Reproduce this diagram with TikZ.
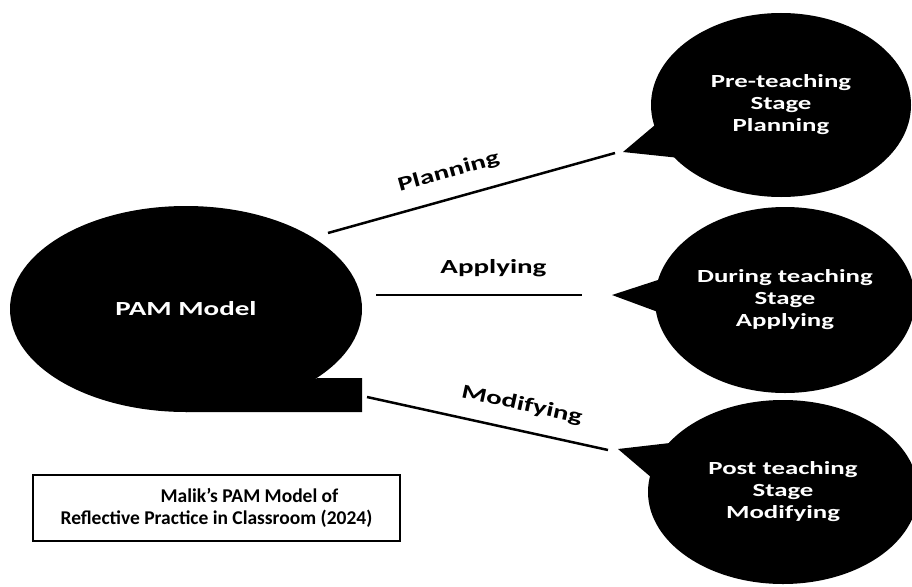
\documentclass[tikz,border=0pt]{standalone}
\usepackage{fontspec}
\setmainfont{Carlito}
\newfontfamily\widesans{Carlito}[FakeStretch=1.45]
\usetikzlibrary{shapes.geometric}
\begin{document}
\begin{tikzpicture}[x=1pt,y=-1pt,
  bubble/.style={ellipse, fill=black, inner sep=0pt, text=white, align=center,
    font=\widesans\bfseries\fontsize{18.5}{22}\selectfont},
  link/.style={line width=2.5pt, black},
  linklabel/.style={font=\widesans\bfseries\fontsize{20}{24}\selectfont, sloped},
  captionbox/.style={draw, line width=1.5pt, align=center,
    font=\bfseries\fontsize{19.5}{22}\selectfont}]
\useasboundingbox (0,0) rectangle (912,586);

% central callout with its square tail
\node[bubble, minimum width=352pt, minimum height=206pt,
  font=\widesans\bfseries\fontsize{20}{24}\selectfont] (pam) at (186,309) {PAM Model};
\fill (318,378) -- (362,378) -- (362,412) -- (186,412) -- cycle;

% stage bubbles with pointed tails
\node[bubble, minimum width=260pt, minimum height=184pt] (pre) at (781,105)
  {Pre-teaching\\Stage\\Planning};
\coordinate (preTip) at (623,152);
\fill (preTip) -- (655,125) -- (680,158) -- cycle;

\node[bubble, minimum width=260pt, minimum height=186pt] (during) at (785,300)
  {During teaching\\Stage\\Applying};
\coordinate (duringTip) at (612,295);
\fill (duringTip) -- (658,280) -- (658,312) -- cycle;

\node[bubble, minimum width=270pt, minimum height=184pt] (post) at (783,492)
  {Post teaching\\Stage\\Modifying};
\coordinate (postTip) at (618,449);
\fill (postTip) -- (670,443) -- (652,478) -- cycle;

% connectors
\coordinate (plA) at (328,233);
\coordinate (plB) at (615,153);
\draw[link] (plA) -- node[linklabel, pos=0.445, above=13pt] {Planning} (plB);

\coordinate (apA) at (376,295);
\coordinate (apB) at (582,295);
\draw[link] (apA) -- node[linklabel, pos=0.57, above=14pt] {Applying} (apB);

\coordinate (moA) at (367,397);
\coordinate (moB) at (608,450);
\draw[link] (moA) -- node[linklabel, pos=0.62, above=12pt] {Modifying} (moB);

% caption
\node[captionbox, minimum width=367pt, minimum height=66pt] (caption) at (216.5,508)
  {\hspace*{66pt}Malik’s PAM Model of\\Reflective Practice in Classroom (2024)};
\end{tikzpicture}
\end{document}
